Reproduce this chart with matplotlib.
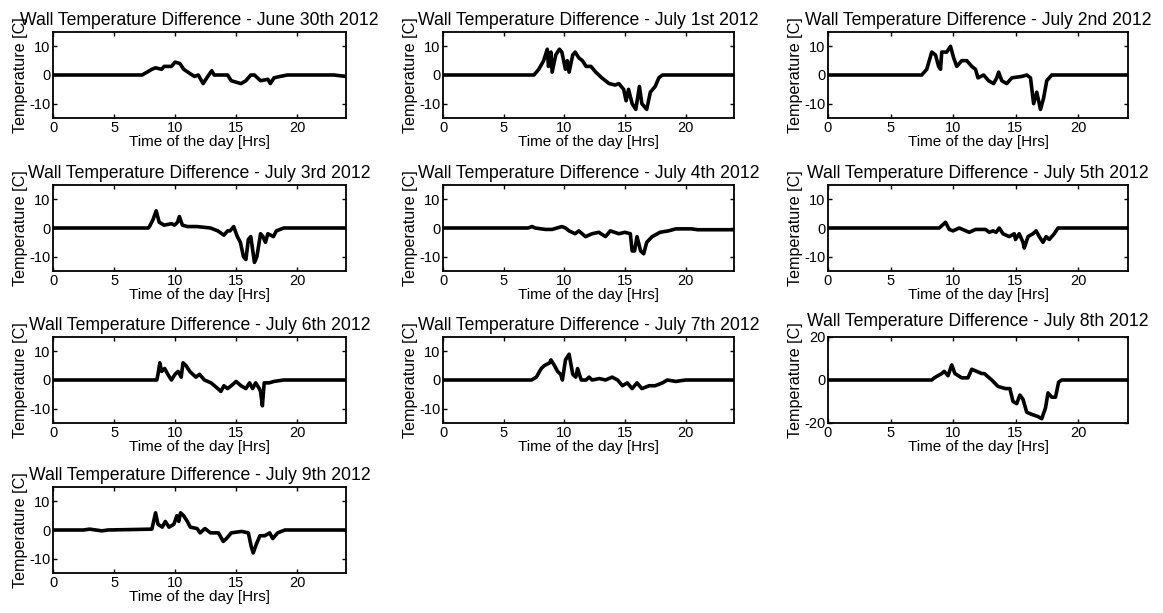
import numpy as np
import matplotlib
matplotlib.use('Agg')
from matplotlib import pyplot as plt

plt.rcParams['font.family'] = ['Liberation Sans', 'DejaVu Sans']
plt.rcParams['axes.unicode_minus'] = False

# time of day [Hrs] / temperature difference [C]
t_jun30 = [0, 7.3, 7.7, 8.1, 8.4, 8.9, 9.1, 9.7, 10.0, 10.4, 10.7, 11.4, 11.6, 11.9, 12.3, 12.6, 13.0, 13.2,
           14.3, 14.6, 15.4, 15.8, 16.2, 16.5, 17.0, 17.6, 17.8, 18.1, 18.6, 19.2, 23.0, 24]
v_jun30 = [0, 0, 1, 2, 2.5, 2, 3, 3, 4.5, 4, 2, 0, -0.5, 0, -3, -1, 1.5, 0,
           0, -2, -3, -2, 0, 0, -2, -1.5, -3, -1, -0.5, 0, 0, -0.5]

t_jul1 = [0, 7.5, 7.9, 8.3, 8.6, 8.7, 8.9, 9.0, 9.3, 9.6, 9.8, 10.1, 10.25, 10.4, 10.7, 10.9, 11.2, 11.5,
          11.8, 12.2, 12.6, 13.1, 13.7, 14.2, 14.5, 14.9, 15.1, 15.3, 15.6, 15.9, 16.2, 16.4, 16.8, 17.1,
          17.5, 17.8, 18.1, 24]
v_jul1 = [0, 0, 2, 5, 9, 3, 8, 1, 7, 9, 8, 2, 5, 1, 7, 8, 6, 5,
          3, 3, 1, -1, -3, -3.5, -3, -5, -9, -5, -10, -12, -4, -10, -12, -6,
          -4, -1, 0, 0]

t_jul2 = [0, 7.5, 7.9, 8.3, 8.6, 8.85, 9.0, 9.1, 9.5, 9.8, 10.05, 10.3, 10.7, 11.1, 11.5, 11.8, 12.0,
          12.45, 12.85, 13.25, 13.5, 13.65, 13.9, 14.3, 14.7, 15.5, 15.9, 16.2, 16.45, 16.7, 17.0, 17.25,
          17.5, 17.9, 24]
v_jul2 = [0, 0, 2, 8, 7, 3, 2, 8, 8, 10, 6, 3, 5, 5, 3, 2, -1,
          0, -2, -3, -1, 1, -2, -3, -1, -0.5, 0, -1, -10, -6, -12, -8,
          -2, 0, 0]

t_jul3 = [0, 7.8, 7.9, 8.2, 8.45, 8.7, 9.1, 9.7, 9.95, 10.2, 10.35, 10.6, 11.0, 11.8, 12.9, 13.5, 14.0,
          14.3, 14.5, 14.8, 15.1, 15.35, 15.6, 15.8, 16.0, 16.2, 16.5, 16.7, 17.0, 17.2, 17.4, 17.6, 18.05,
          18.3, 18.9, 24]
v_jul3 = [0, 0, 0.5, 3, 6, 2, 1, 1.5, 1, 2, 4, 1, 0.5, 0.5, 0, -1, -2.5,
          -1, -1, 0.5, -3, -5, -10, -11, -4, -3, -12, -10, -2, -3, -5, -2, -3,
          -1, 0, 0]

t_jul4 = [0, 7.0, 7.35, 7.6, 8.45, 9.0, 9.8, 10.1, 10.4, 10.9, 11.2, 11.75, 12.3, 12.85, 13.4, 13.8, 14.5,
          15.0, 15.45, 15.6, 15.8, 16.0, 16.3, 16.55, 16.8, 17.25, 17.9, 18.6, 19.2, 20.5, 21.0, 24]
v_jul4 = [0, 0, 0.5, 0, -0.5, -0.5, 0.5, 0, -1, -2, -1, -3, -2, -1.5, -3, -1, -2,
          -1.5, -2, -8, -8, -3, -8, -9, -5, -3, -1.5, -1, -0.3, -0.3, -0.6, -0.6]

t_jul5 = [0, 8.7, 8.9, 9.15, 9.4, 9.7, 10.0, 10.5, 11.3, 11.8, 12.6, 12.9, 13.2, 13.45, 13.7, 14.0, 14.5,
          14.9, 15.0, 15.3, 15.6, 15.7, 16.0, 16.4, 16.65, 16.9, 17.2, 17.45, 17.7, 18.1, 18.4, 24]
v_jul5 = [0, 0, 0, 1, 2, -0.5, -1, 0, -1.5, -0.5, -0.5, -1.5, -1, -1.5, 0, -2, -3,
          -2, -4, -2, -5, -7, -3, -2, -1, -3, -5, -3, -4, -2, 0, 0]

t_jul6 = [0, 8.5, 8.6, 8.75, 8.9, 9.15, 9.4, 9.7, 10.0, 10.25, 10.5, 10.65, 10.9, 11.2, 11.45, 11.7, 12.0,
          12.4, 12.95, 13.5, 13.75, 14.0, 14.3, 14.6, 15.0, 15.4, 15.8, 16.1, 16.35, 16.6, 16.9, 17.0,
          17.15, 17.3, 17.7, 18.1, 18.9, 24]
v_jul6 = [0, 0, 2, 6, 3, 4, 2, 0, 2, 3, 1, 6, 5, 3, 2, 1, 2,
          0, -1, -3, -4, -2, -3, -2, -0.5, -2, -3, -1, -3, -1, -3, -4,
          -9, -1, -1, -0.5, 0, 0]

t_jul7 = [0, 7.3, 7.7, 8.1, 8.35, 8.8, 8.9, 9.2, 9.45, 9.7, 9.85, 10.1, 10.4, 10.7, 10.95, 11.1, 11.4,
          11.8, 12.05, 12.3, 12.9, 13.4, 13.95, 14.4, 14.8, 15.2, 15.6, 16.0, 16.4, 17.0, 17.5, 18.1, 18.5,
          19.2, 20.0, 24]
v_jul7 = [0, 0, 1, 4, 5, 6, 7, 5, 3, 2, 0, 7, 9, 2, 1, 4, 0,
          0, 1, 0, 0.5, 0, 1, 0, -2, -1, -3, -1, -3, -2, -2, -1, 0,
          -0.5, 0, 0]

t_jul8 = [0, 8.3, 8.5, 9.1, 9.3, 9.6, 9.9, 10.15, 10.7, 11.2, 11.5, 11.9, 12.3, 12.5, 13.1, 13.6, 14.2,
          14.55, 14.8, 15.1, 15.35, 15.6, 15.9, 16.3, 16.8, 17.1, 17.4, 17.6, 17.9, 18.2, 18.45, 18.7, 24]
v_jul8 = [0, 0, 1, 3, 4, 2, 7, 3, 1, 1, 5, 4, 3, 3, 0, -3, -4,
          -4, -10, -11, -7, -9, -15, -16, -17, -18, -13, -6, -8, -8, -1, 0, 0]

t_jul9 = [0, 2.5, 3.0, 4.0, 4.5, 8.1, 8.4, 8.6, 8.95, 9.2, 9.5, 9.9, 10.15, 10.3, 10.45, 10.7, 11.0,
          11.25, 11.8, 12.05, 12.45, 12.9, 13.55, 13.95, 14.2, 14.6, 15.45, 16.0, 16.25, 16.4, 16.65, 16.95,
          17.35, 17.75, 18.0, 18.4, 19.0, 24]
v_jul9 = [0, 0, 0.3, -0.3, 0, 0.3, 6, 2, 1, 3, 1, 2, 5, 3, 6, 5, 3,
          1, 0.5, -1, 0.5, -1, -1, -4, -3, -1, -0.5, -1, -6, -8, -5, -2,
          -2, -1, -3, -1, 0, 0]

titles = ['June 30th 2012', 'July 1st 2012', 'July 2nd 2012', 'July 3rd 2012', 'July 4th 2012',
          'July 5th 2012', 'July 6th 2012', 'July 7th 2012', 'July 8th 2012', 'July 9th 2012']
series = [(t_jun30, v_jun30), (t_jul1, v_jul1), (t_jul2, v_jul2), (t_jul3, v_jul3), (t_jul4, v_jul4),
          (t_jul5, v_jul5), (t_jul6, v_jul6), (t_jul7, v_jul7), (t_jul8, v_jul8), (t_jul9, v_jul9)]

W, H = 1163, 613
fig = plt.figure(figsize=(W / 100, H / 100), dpi=100)

col_left = [53, 443, 828]
col_width = [293, 291, 300]
row_top = [32, 185, 337, 487]
ax_h = 86

for i, (t, v) in enumerate(series):
    r, c = divmod(i, 3)
    ax = fig.add_axes([col_left[c] / W, 1 - (row_top[r] + ax_h) / H, col_width[c] / W, ax_h / H])
    ax.plot(t, v, color='k', linewidth=2.6)
    ax.set_xlim(0, 24)
    ax.set_xticks([0, 5, 10, 15, 20])
    if i == 8:
        ax.set_ylim(-20, 20)
        ax.set_yticks([-20, 0, 20])
    else:
        ax.set_ylim(-15, 15)
        ax.set_yticks([-10, 0, 10])
    ax.tick_params(direction='in', top=True, right=True, length=3, width=1, labelsize=10.5, pad=2)
    for s in ax.spines.values():
        s.set_linewidth(1.3)
    # the "20" tick label of the July 8th panel reaches up to the title
    ax.set_title('Wall Temperature Difference - ' + titles[i], fontsize=12.7, pad=8 if i == 8 else 5)
    ax.set_xlabel('Time of the day [Hrs]', fontsize=11, labelpad=0)
    ax.set_ylabel('Temperature [C]', fontsize=11.6, labelpad=1)

plt.savefig('out.png', dpi=100)
